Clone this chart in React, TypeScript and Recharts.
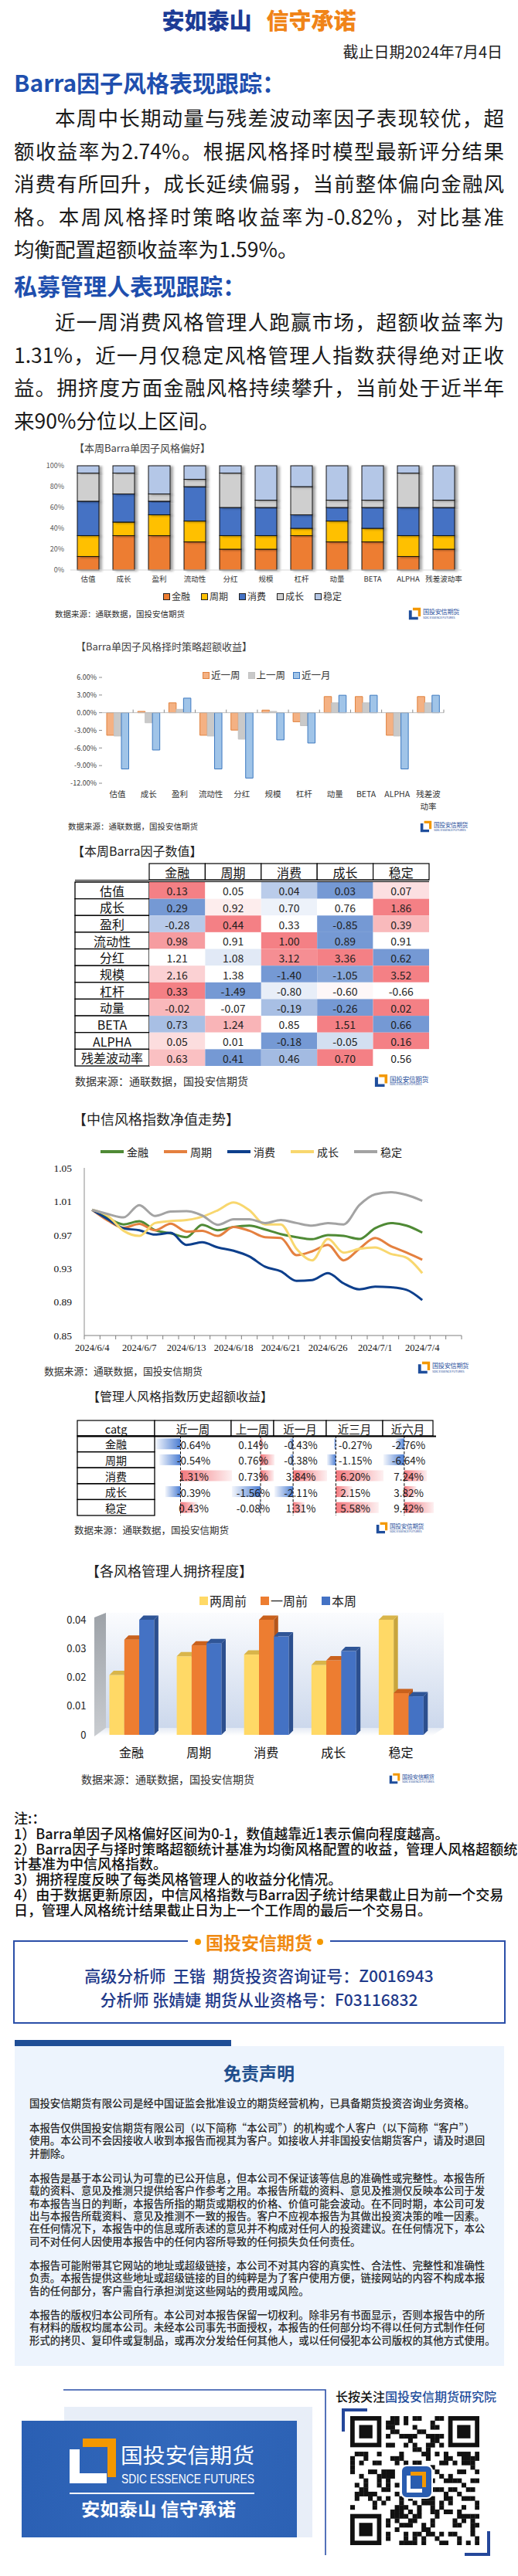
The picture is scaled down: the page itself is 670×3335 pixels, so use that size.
import React from "react";
import {
  BarChart,
  Bar,
  LineChart,
  Line,
  ScatterChart,
  Scatter,
  XAxis,
  YAxis,
  ReferenceLine,
} from "recharts";

const SANS = '"Noto Sans CJK SC", "Noto Sans", sans-serif';
const SERIF = '"Liberation Serif", "DejaVu Serif", serif';
const BRAND_BLUE = "#1f4e9c";
const BRAND_ORANGE = "#f39800";

// ---------- shared categories ----------
const styles = ["金融", "周期", "消费", "成长", "稳定"];
const factors = ["估值", "成长", "盈利", "流动性", "分红", "规模", "杠杆", "动量", "BETA", "ALPHA", "残差波动率"];

// ---------- Barra single-factor style preference (share per factor) ----------
const prefFinance = [0.13, 0.33, 0.33, 0.27, 0.2, 0.2, 0.33, 0.27, 0.27, 0.13, 0.2];
const prefCycle = [0.2, 0.13, 0.2, 0.2, 0.13, 0.13, 0.07, 0.2, 0.13, 0.2, 0.13];
const prefConsume = [0.33, 0.27, 0.13, 0.33, 0.27, 0.27, 0.13, 0.13, 0.2, 0.27, 0.27];
const prefGrowth = [0.27, 0.2, 0.07, 0.07, 0.33, 0.07, 0.27, 0.07, 0.07, 0.33, 0.07];
const prefStable = [0.07, 0.07, 0.27, 0.13, 0.07, 0.33, 0.2, 0.33, 0.33, 0.07, 0.33];

// ---------- Barra single-factor timing excess return (%) ----------
const timingSeries = ["近一周", "上一周", "近一月"];
const timingWeek = [-3.84, 0.22, 1.68, -3.84, -2.96, 0.44, -1.54, 2.74, 2.74, -3.84, 2.74];
const timingLastWeek = [-3.97, -1.72, 0.57, -3.97, -4.5, 0.22, -2.21, 1.68, 1.68, -3.97, 1.68];
const timingMonth = [-9.57, -6.35, 2.47, -9.57, -11.12, -4.63, -5.16, 2.96, 2.96, -9.57, 2.96];
const timingTicks = [-12, -9, -6, -3, 0, 3, 6];

// ---------- Barra factor values this week (one array per style) ----------
const barraFinance = [0.13, 0.29, -0.28, 0.98, 1.21, 2.16, 0.33, -0.02, 0.73, 0.05, 0.63];
const barraCycle = [0.05, 0.92, 0.44, 0.91, 1.08, 1.38, -1.49, -0.07, 1.24, 0.01, 0.41];
const barraConsume = [0.04, 0.7, 0.33, 1.0, 3.12, -1.4, -0.8, -0.19, 0.85, -0.18, 0.46];
const barraGrowth = [0.03, 0.76, -0.85, 0.89, 3.36, -1.05, -0.6, -0.26, 1.51, -0.05, 0.7];
const barraStable = [0.07, 1.86, 0.39, 0.91, 0.62, 3.52, -0.66, 0.02, 0.66, 0.16, 0.56];

// ---------- CITIC style index NAV ----------
const navDates = [
  "2024/6/4", "2024/6/5", "2024/6/6", "2024/6/7", "2024/6/11", "2024/6/12", "2024/6/13", "2024/6/14",
  "2024/6/17", "2024/6/18", "2024/6/19", "2024/6/20", "2024/6/21", "2024/6/24", "2024/6/25", "2024/6/26",
  "2024/6/27", "2024/6/28", "2024/7/1", "2024/7/2", "2024/7/3", "2024/7/4",
];
const navFinance = [1.0, 0.9903, 0.9826, 0.9863, 0.9756, 0.9719, 0.9673, 0.982, 0.9756, 0.9796, 0.9811, 0.9765, 0.971, 0.9673, 0.9649, 0.9698, 0.9688, 0.9652, 0.978, 0.9842, 0.9811, 0.9728];
const navCycle = [1.0, 0.9872, 0.9786, 0.9832, 0.9756, 0.9835, 0.974, 0.975, 0.9688, 0.9796, 0.975, 0.9673, 0.9664, 0.9459, 0.9505, 0.9581, 0.9397, 0.9535, 0.9664, 0.9566, 0.9489, 0.9404];
const navConsume = [1.0, 0.9887, 0.978, 0.9756, 0.9704, 0.9725, 0.9581, 0.9612, 0.9551, 0.9511, 0.9443, 0.9321, 0.9266, 0.9152, 0.9162, 0.9244, 0.9122, 0.9051, 0.9082, 0.9076, 0.9045, 0.8923];
const navGrowth = [1.0, 0.9927, 0.975, 0.9688, 0.9842, 0.9866, 0.9878, 0.9918, 0.9995, 1.0087, 0.9995, 0.9826, 0.9826, 0.9535, 0.9397, 0.9652, 0.9489, 0.9535, 0.9551, 0.9474, 0.9428, 0.9244];
const navStable = [1.0, 0.9949, 0.9909, 1.0056, 0.9927, 0.9979, 0.9985, 0.9933, 0.982, 0.9887, 0.9887, 0.9842, 0.9878, 0.9842, 0.9811, 0.9842, 0.9826, 1.0056, 1.0185, 1.0209, 1.0178, 1.0108];
const navTicks = [0.85, 0.89, 0.93, 0.97, 1.01, 1.05];

// ---------- manager style index excess return (%) ----------
const mgrPeriods = ["近一周", "上一周", "近一月", "近三月", "近六月"];
const mgrWeek = [-0.64, -0.54, 1.31, -0.39, 0.43];
const mgrLastWeek = [0.14, 0.76, 0.73, -1.56, -0.08];
const mgrMonth = [-0.43, -0.38, 3.84, -2.11, 1.31];
const mgrQuarter = [-0.27, -1.15, 6.2, 2.15, 5.58];
const mgrHalfYear = [-2.76, -6.64, 7.24, 3.82, 9.42];

// ---------- manager crowding ----------
const crowdSeries = ["两周前", "一周前", "本周"];
const crowdTwoWeeksAgo = [0.0208, 0.0273, 0.0279, 0.0243, 0.04];
const crowdOneWeekAgo = [0.0331, 0.0311, 0.04, 0.0259, 0.0145];
const crowdThisWeek = [0.04, 0.0319, 0.0342, 0.0291, 0.0134];
const crowdTicks = [0, 0.01, 0.02, 0.03, 0.04];

// ---------- styling ----------
const prefColors: Record<string, string> = {
  金融: "#ED7D31",
  周期: "#FFC000",
  消费: "#4472C4",
  成长: "#CFCFCF",
  稳定: "#B4C7E7",
};
const timingColors = [
  { fill: "#F4B183", stroke: "#E0823F" },
  { fill: "#C9C9C9", stroke: "#C3C3C3" },
  { fill: "#A0C4E8", stroke: "#3D79C0" },
];
const navColors = ["#4F8A35", "#E4803F", "#0D3F8C", "#F8D76E", "#A3A3A3"];
const crowdColors = [
  { face: "#FFD966", top: "#D9B54A", side: "#C9A53C" },
  { face: "#ED7D31", top: "#C9611D", side: "#B5561A" },
  { face: "#4472C4", top: "#2F5597", side: "#2C4F8E" },
];

function abs(left: number, top: number, extra?: any): any {
  return Object.assign({ position: "absolute", left: left, top: top }, extra || {});
}

// keeps one failing panel from blanking the whole page
class Guard extends React.Component<any, any> {
  constructor(props: any) {
    super(props);
    this.state = { failed: false };
  }
  static getDerivedStateFromError() {
    return { failed: true };
  }
  render() {
    if (this.state.failed) return null;
    return this.props.children;
  }
}

// gradients and filters shared by the charts below
function SharedDefs() {
  return (
    <svg width={1} height={1} style={abs(0, 0)}>
      <defs>
        <filter id="prefShadow" x="-30%" y="-10%" width="170%" height="130%">
          <feDropShadow dx="3.5" dy="1" stdDeviation="1.5" floodColor="#000" floodOpacity="0.35" />
        </filter>
        <linearGradient id="mgrPos" x1="0" x2="1" y1="0" y2="0">
          <stop offset="0" stopColor="#F3777C" />
          <stop offset="1" stopColor="#FDF0F1" />
        </linearGradient>
        <linearGradient id="mgrNeg" x1="0" x2="1" y1="0" y2="0">
          <stop offset="0" stopColor="#F3F6FC" />
          <stop offset="1" stopColor="#4C7ED3" />
        </linearGradient>
      </defs>
    </svg>
  );
}

function TextLine({ x, y, w, size, text, justify = true, color = "#1a1a1a", weight = 400, lh }: any) {
  const lineH = lh ?? Math.round(size * 1.5);
  return (
    <div
      style={abs(x, y - lineH / 2, {
        width: w,
        fontSize: size,
        lineHeight: lineH + "px",
        color: color,
        fontWeight: weight,
        textAlign: justify ? "justify" : "left",
        textAlignLast: justify ? "justify" : "left",
        whiteSpace: justify ? "normal" : "nowrap",
      })}
    >
      {text}
    </div>
  );
}

function Caption({ x, y, size, text, color = "#262626" }: any) {
  return (
    <div style={abs(x, y - size * 0.75, { fontSize: size, lineHeight: size * 1.5 + "px", color: color, whiteSpace: "nowrap" })}>
      {text}
    </div>
  );
}

function MiniLogo({ x, y, h }: any) {
  return (
    <div style={abs(x, y, { display: "flex", alignItems: "center", gap: 2 })}>
      <svg width={h} height={h} viewBox="0 0 20 20">
        <path d="M7 1 H19 V14 H15 V5 H7 Z" fill={BRAND_ORANGE} />
        <path d="M1 5 H5.5 V15 H15 V19 H1 Z" fill={BRAND_BLUE} />
      </svg>
      <div style={{ lineHeight: 1, color: BRAND_BLUE }}>
        <div style={{ fontSize: h * 0.48, letterSpacing: -0.3 }}>国投安信期货</div>
        <div style={{ fontSize: Math.max(h * 0.22, 4), letterSpacing: -0.2 }}>SDIC ESSENCE FUTURES</div>
      </div>
    </div>
  );
}

function Source({ x, y, size }: any) {
  return <Caption x={x} y={y} size={size} text="数据来源：通联数据，国投安信期货" color="#303030" />;
}

// ---------- header and commentary ----------
function Intro() {
  const p1 = [
    "本周中长期动量与残差波动率因子表现较优，超",
    "额收益率为2.74%。根据风格择时模型最新评分结果",
    "消费有所回升，成长延续偏弱，当前整体偏向金融风",
    "格。本周风格择时策略收益率为-0.82%，对比基准",
    "均衡配置超额收益率为1.59%。",
  ];
  const p2 = [
    "近一周消费风格管理人跑赢市场，超额收益率为",
    "1.31%，近一月仅稳定风格管理人指数获得绝对正收",
    "益。拥挤度方面金融风格持续攀升，当前处于近半年",
    "来90%分位以上区间。",
  ];
  const lineGap = 42.5;
  return (
    <>
      <div style={abs(0, 8, { width: 670, textAlign: "center", fontSize: 29, fontWeight: 900, lineHeight: "34px" })}>
        <span style={{ color: "#1d3c96" }}>安如泰山</span>
        <span style={{ color: "#f08418", marginLeft: 19 }}>信守承诺</span>
      </div>
      <div style={abs(0, 55, { width: 650, textAlign: "right", fontSize: 20, lineHeight: "24px", color: "#222" })}>
        截止日期2024年7月4日
      </div>
      <div style={abs(18, 88, { fontSize: 30, fontWeight: 700, lineHeight: "36px", color: "#1f4fae" })}>
        Barra因子风格表现跟踪：
      </div>
      {p1.map((t, i) => (
        <TextLine key={t} x={i === 0 ? 71 : 18} w={i === 0 ? 581 : 634} y={152 + i * lineGap} size={26.5} lh={40} text={t} justify={i < p1.length - 1} />
      ))}
      <div style={abs(18, 351, { fontSize: 30, fontWeight: 700, lineHeight: "36px", color: "#1f4fae" })}>
        私募管理人表现跟踪：
      </div>
      {p2.map((t, i) => (
        <TextLine key={t} x={i === 0 ? 71 : 18} w={i === 0 ? 581 : 634} y={416 + i * lineGap} size={26.5} lh={40} text={t} justify={i < p2.length - 1} />
      ))}
    </>
  );
}

// ---------- 100% stacked preference bars ----------
function ShadowBar(props: any) {
  const { x, y, width, height, fill } = props;
  if (!height || height <= 0) return null;
  return <rect x={x} y={y} width={width} height={height} fill={fill} stroke="#111" strokeWidth={1} filter="url(#prefShadow)" />;
}

function PreferenceChart() {
  const rows = factors.map((factor, i) => ({
    factor,
    金融: prefFinance[i],
    周期: prefCycle[i],
    消费: prefConsume[i],
    成长: prefGrowth[i],
    稳定: prefStable[i],
  }));
  return (
    <>
      <Caption x={96} y={580} size={13} text="【本周Barra单因子风格偏好】" color="#404040" />
      <div style={abs(0, 590)}>
        <BarChart width={610} height={200} data={rows} stackOffset="expand" barSize={28} margin={{ top: 13, right: 13, bottom: 22, left: 0 }}>
          <XAxis dataKey="factor" interval={0} axisLine={{ stroke: "#d9d9d9" }} tickLine={false} tick={{ fontSize: 9.5, fill: "#333" }} height={30} />
          <YAxis
            width={91}
            domain={[0, 1]}
            ticks={[0, 0.2, 0.4, 0.6, 0.8, 1]}
            tickFormatter={(v: number) => Math.round(v * 100) + "%"}
            axisLine={false}
            tickLine={false}
            tick={{ fontSize: 9, fill: "#595959" }}
          />
          {styles.map((s) => (
            <Bar key={s} dataKey={s} stackId="pref" fill={prefColors[s]} isAnimationActive={false} shape={ShadowBar} />
          ))}
        </BarChart>
      </div>
      <div style={abs(211, 764, { display: "flex", gap: 14, fontSize: 12, lineHeight: "16px", color: "#333" })}>
        {styles.map((s) => (
          <div key={s} style={{ display: "flex", alignItems: "center", gap: 2 }}>
            <div style={{ width: 7, height: 7, background: prefColors[s], border: "1px solid #222" }} />
            {s}
          </div>
        ))}
      </div>
      <Source x={71} y={795} size={10.5} />
      <MiniLogo x={528} y={786} h={17} />
    </>
  );
}

// ---------- timing strategy grouped bars ----------
const TIMING_BAND = 442 / factors.length;
const TIMING_PLOT_H = 137;

function TimingTick(props: any) {
  const { x, y, payload } = props;
  const label: string = String(payload && payload.value != null ? payload.value : "");
  const lines = /[\u4e00-\u9fff]/.test(label) && label.length > 3 ? [label.slice(0, 3), label.slice(3)] : [label];
  const zeroY = y - TIMING_PLOT_H + (TIMING_PLOT_H * 6) / 18;
  return (
    <g>
      <line x1={x + TIMING_BAND / 2} x2={x + TIMING_BAND / 2} y1={zeroY - 4} y2={zeroY} stroke="#8c8c8c" />
      {lines.map((t, i) => (
        <text key={t} x={x} y={y + 13 + i * 16} textAnchor="middle" dominantBaseline="central" fontSize={10.5} fill="#333" fontFamily={SANS}>
          {t}
        </text>
      ))}
    </g>
  );
}

function TimingChart() {
  const rows = factors.map((factor, i) => ({
    factor,
    近一周: timingWeek[i],
    上一周: timingLastWeek[i],
    近一月: timingMonth[i],
  }));
  return (
    <>
      <Caption x={98} y={837} size={13} text="【Barra单因子风格择时策略超额收益】" color="#404040" />
      <div style={abs(262, 866, { display: "flex", gap: 10, fontSize: 12.5, lineHeight: "16px", color: "#333" })}>
        {timingSeries.map((s, i) => (
          <div key={s} style={{ display: "flex", alignItems: "center", gap: 2 }}>
            <div style={{ width: 7, height: 7, background: timingColors[i].fill, border: "1px solid " + timingColors[i].stroke }} />
            {s}
          </div>
        ))}
      </div>
      <div style={abs(0, 860)}>
        <BarChart width={590} height={194} data={rows} barSize={9.5} barGap={0} margin={{ top: 17, right: 16, bottom: 0, left: 0 }}>
          <XAxis dataKey="factor" interval={0} axisLine={false} tickLine={false} tickSize={0} tickMargin={0} height={40} tick={TimingTick} />
          <YAxis
            width={132}
            domain={[-12, 6]}
            ticks={timingTicks}
            tickFormatter={(v: number) => v.toFixed(2) + "%"}
            axisLine={false}
            tickLine={{ stroke: "#8c8c8c" }}
            tickSize={4}
            tickMargin={3}
            tick={{ fontSize: 9, fill: "#404040" }}
          />
          <ReferenceLine y={0} stroke="#bfbfbf" />
          {timingSeries.map((s, i) => (
            <Bar key={s} dataKey={s} fill={timingColors[i].fill} stroke={timingColors[i].stroke} strokeWidth={1} isAnimationActive={false} />
          ))}
        </BarChart>
      </div>
      <Source x={88} y={1070} size={10.5} />
      <MiniLogo x={543} y={1062} h={16} />
    </>
  );
}

// ---------- Barra factor value heatmap ----------
const barraByStyle = [barraFinance, barraCycle, barraConsume, barraGrowth, barraStable];
const HEAT_W = 362;
const HEAT_H = 238;
const HEAT_LOW = [117, 153, 212];
const HEAT_MID = [255, 255, 255];
const HEAT_HIGH = [244, 128, 133];

function mix(a: number[], b: number[], t: number) {
  return "rgb(" + a.map((v, i) => Math.round(v + (b[i] - v) * t)).join(",") + ")";
}

// three-colour scale per factor row: min blue, median white, max red
function heatFill(r: number, v: number) {
  const row = barraByStyle.map((col) => col[r]).sort((a, b) => a - b);
  const lo = row[0];
  const mid = row[2];
  const hi = row[row.length - 1];
  if (v <= mid) return mix(HEAT_LOW, HEAT_MID, mid === lo ? 1 : (v - lo) / (mid - lo));
  return mix(HEAT_MID, HEAT_HIGH, hi === mid ? 1 : (v - mid) / (hi - mid));
}

function HeatCell(props: any) {
  const { cx, cy, payload } = props;
  if (cx == null || cy == null || !payload) return null;
  const w = HEAT_W / styles.length;
  const h = HEAT_H / factors.length;
  return (
    <g>
      <rect x={cx - w / 2} y={cy - h / 2} width={w} height={h} fill={heatFill(payload.r, payload.value)} />
      <text x={cx} y={cy + 0.5} textAnchor="middle" dominantBaseline="central" fontSize={14} fill="#1f1f1f" fontFamily={SANS}>
        {payload.value.toFixed(2)}
      </text>
    </g>
  );
}

function BarraTable() {
  const cells = factors.flatMap((factor, r) => styles.map((style, c) => ({ factor, style, r, value: barraByStyle[c][r] })));
  const colW = HEAT_W / styles.length;
  const rowH = HEAT_H / factors.length;
  return (
    <>
      <Caption x={93} y={1101} size={16} text="【本周Barra因子数值】" color="#222" />
      <svg style={abs(96, 1117)} width={462} height={264} fontFamily={SANS}>
        {styles.map((s, c) => (
          <g key={s}>
            <rect x={97 + c * colW} y={1} width={colW} height={21} fill="#fff" stroke="#000" strokeWidth={1.2} />
            <text x={97 + (c + 0.5) * colW} y={12} textAnchor="middle" dominantBaseline="central" fontSize={16} fill="#111">
              {s}
            </text>
          </g>
        ))}
        <line x1={1} x2={459} y1={22.5} y2={22.5} stroke="#000" strokeWidth={1.2} />
        <line x1={1} x2={459} y1={24.5} y2={24.5} stroke="#000" strokeWidth={1.2} />
        {factors.map((f, r) => (
          <g key={f}>
            <rect x={1} y={25 + r * rowH} width={96} height={rowH} fill="#fff" stroke="#000" strokeWidth={1.3} />
            <text x={49} y={25 + (r + 0.5) * rowH} textAnchor="middle" dominantBaseline="central" fontSize={16} fill="#111">
              {f}
            </text>
          </g>
        ))}
      </svg>
      <div style={abs(193, 1142)}>
        <ScatterChart width={HEAT_W} height={HEAT_H} margin={{ top: 0, right: 0, bottom: 0, left: 0 }}>
          <XAxis type="category" dataKey="style" allowDuplicatedCategory={false} hide />
          <YAxis type="category" dataKey="factor" allowDuplicatedCategory={false} reversed hide />
          <Scatter data={cells} shape={HeatCell} isAnimationActive={false} />
        </ScatterChart>
      </div>
      <Source x={97} y={1399} size={14} />
      <MiniLogo x={484} y={1390} h={18} />
    </>
  );
}

// ---------- CITIC style index NAV lines ----------
const NAV_SLOTS = navDates.length + 2;
const NAV_BAND = 488 / NAV_SLOTS;

function NavTick(props: any) {
  const { x, y, payload, index } = props;
  const showLabel = index < navDates.length && index % 3 === 0;
  return (
    <g>
      <line x1={x - NAV_BAND / 2} x2={x - NAV_BAND / 2} y1={y} y2={y + 5} stroke="#7f7f7f" />
      {index === NAV_SLOTS - 1 ? <line x1={x + NAV_BAND / 2} x2={x + NAV_BAND / 2} y1={y} y2={y + 5} stroke="#7f7f7f" /> : null}
      {showLabel ? (
        <text x={x} y={y + 16} textAnchor="middle" dominantBaseline="central" fontFamily={SERIF} fontSize={12.5} fill="#111">
          {payload.value}
        </text>
      ) : null}
    </g>
  );
}

function NavChart() {
  const navByStyle = [navFinance, navCycle, navConsume, navGrowth, navStable];
  const rows: any[] = navDates.map((date, i) => {
    const row: any = { date };
    styles.forEach((s, k) => (row[s] = navByStyle[k][i]));
    return row;
  });
  rows.push({ date: " " }, { date: "  " });
  return (
    <>
      <Caption x={94} y={1448} size={18} text="【中信风格指数净值走势】" color="#222" />
      <div style={abs(130, 1481, { display: "flex", gap: 20, fontSize: 14, lineHeight: "20px", color: "#222" })}>
        {styles.map((s, k) => (
          <div key={s} style={{ display: "flex", alignItems: "center", gap: 4 }}>
            <div style={{ width: 30, height: 4, background: navColors[k] }} />
            {s}
          </div>
        ))}
      </div>
      <div style={abs(0, 1500)}>
        <LineChart width={610} height={265} data={rows} margin={{ top: 12, right: 13, bottom: 6, left: 0 }}>
          <XAxis dataKey="date" scale="band" interval={0} tickLine={false} tickSize={0} tickMargin={0} axisLine={{ stroke: "#7f7f7f" }} height={30} tick={NavTick} />
          <YAxis
            width={109}
            domain={[0.85, 1.05]}
            ticks={navTicks}
            tickFormatter={(v: number) => v.toFixed(2)}
            axisLine={{ stroke: "#8c8c8c" }}
            tickLine={false}
            tickMargin={10}
            tick={{ fontSize: 13.5, fill: "#111", fontFamily: SERIF }}
          />
          {styles.map((s, k) => (
            <Line key={s} type="monotone" dataKey={s} stroke={navColors[k]} strokeWidth={3} dot={false} isAnimationActive={false} />
          ))}
        </LineChart>
      </div>
      <Source x={57} y={1775} size={12.8} />
      <MiniLogo x={540} y={1762} h={17} />
    </>
  );
}

// ---------- manager excess return table with data bars ----------
const mgrByPeriod = [mgrWeek, mgrLastWeek, mgrMonth, mgrQuarter, mgrHalfYear];
const mgrEdges = [101, 201, 300, 355, 423, 496, 561];
const MGR_TOP = 1859;
const MGR_ROW_H = 20.6;

// data bar drawn from the axis outwards, with the dashed zero axis and the value text
function makeDataBar(colW: number) {
  return (props: any) => {
    const { x, y, width, height, payload } = props;
    if (!payload || x == null) return null;
    const v = Number(payload.v);
    const left = Math.min(x, x + width);
    const bw = Math.abs(width);
    const cy = y + height / 2;
    const zeroX = v >= 0 ? left : left + bw;
    return (
      <g>
        <rect x={left} y={y} width={bw} height={height} fill={v < 0 ? "url(#mgrNeg)" : "url(#mgrPos)"} />
        <line x1={zeroX} x2={zeroX} y1={cy - MGR_ROW_H / 2} y2={cy + MGR_ROW_H / 2} stroke="#000" strokeDasharray="3 2" />
        <text x={colW / 2} y={cy + 0.5} textAnchor="middle" dominantBaseline="central" fontSize={13.5} fill="#1a1a1a" fontFamily={SANS}>
          {v.toFixed(2) + "%"}
        </text>
      </g>
    );
  };
}

function MgrColumn({ values, w }: any) {
  const rows = styles.map((style, r) => ({ style, v: values[r] }));
  const lo = Math.min(...values);
  const hi = Math.max(...values);
  return (
    <BarChart layout="vertical" width={w} height={MGR_ROW_H * styles.length} data={rows} barCategoryGap="16%" margin={{ top: 0, right: 0, bottom: 0, left: 0 }}>
      <XAxis type="number" domain={[lo, hi]} allowDataOverflow hide />
      <YAxis type="category" dataKey="style" hide />
      <Bar dataKey="v" fill="#F3777C" isAnimationActive={false} shape={makeDataBar(w)} />
    </BarChart>
  );
}

function ManagerTable() {
  return (
    <>
      <Caption x={113} y={1807} size={16} text="【管理人风格指数历史超额收益】" color="#222" />
      <svg style={abs(99, 1837)} width={466} height={130} fontFamily={SANS}>
        {["catg"].concat(mgrPeriods).map((h, i) => {
          const x0 = mgrEdges[i] - 100;
          const x1 = mgrEdges[i + 1] - 100;
          return (
            <g key={h}>
              <rect x={x0} y={2} width={x1 - x0} height={20} fill="#fff" stroke="#000" strokeWidth={1.2} />
              <text x={(x0 + x1) / 2} y={12.5} textAnchor="middle" dominantBaseline="central" fontSize={14.5} fill="#111">
                {h}
              </text>
            </g>
          );
        })}
        <line x1={1} x2={465} y1={22.5} y2={22.5} stroke="#000" strokeWidth={2} />
        {styles.map((s, r) => (
          <g key={s}>
            <rect x={1} y={22 + r * MGR_ROW_H} width={100} height={MGR_ROW_H} fill="none" stroke="#000" strokeWidth={1.3} />
            <text x={51} y={22 + (r + 0.5) * MGR_ROW_H} textAnchor="middle" dominantBaseline="central" fontSize={14} fill="#111">
              {s}
            </text>
          </g>
        ))}
      </svg>
      {mgrPeriods.map((p, c) => (
        <div key={p} style={abs(mgrEdges[c + 1], MGR_TOP)}>
          <Guard>
            <MgrColumn values={mgrByPeriod[c]} w={mgrEdges[c + 2] - mgrEdges[c + 1]} />
          </Guard>
        </div>
      ))}
      <Source x={96} y={1981} size={12.5} />
      <MiniLogo x={486} y={1970} h={16} />
    </>
  );
}

// ---------- crowding 3D columns ----------
const COLUMN_DEPTH = 5.5;
const columnShapes = crowdColors.map((col) => (props: any) => {
  const { x, y, width, height } = props;
  if (!height || height <= 0) return null;
  const d = COLUMN_DEPTH;
  return (
    <g>
      <rect x={x} y={y} width={width} height={height} fill={col.face} />
      <polygon points={[x, y, x + d, y - d, x + width + d, y - d, x + width, y].join(" ")} fill={col.top} />
      <polygon points={[x + width, y, x + width + d, y - d, x + width + d, y + height - d, x + width, y + height].join(" ")} fill={col.side} />
    </g>
  );
});

function CrowdingChart() {
  const series = [crowdTwoWeeksAgo, crowdOneWeekAgo, crowdThisWeek];
  const rows = styles.map((style, i) => ({
    style,
    两周前: series[0][i],
    一周前: series[1][i],
    本周: series[2][i],
  }));
  return (
    <>
      <Caption x={111} y={2033} size={18} text="【各风格管理人拥挤程度】" color="#222" />
      <div style={abs(258, 2061, { display: "flex", gap: 18, fontSize: 16, lineHeight: "22px", color: "#222" })}>
        {crowdSeries.map((s, i) => (
          <div key={s} style={{ display: "flex", alignItems: "center", gap: 2 }}>
            <div style={{ width: 11, height: 11, background: crowdColors[i].face }} />
            {s}
          </div>
        ))}
      </div>
      <svg style={abs(118, 2084)} width={460} height={170}>
        <defs>
          <linearGradient id="wallBack" x1="0" x2="0" y1="0" y2="1">
            <stop offset="0" stopColor="#FBFCFE" />
            <stop offset="1" stopColor="#CCD8EC" />
          </linearGradient>
          <linearGradient id="wallSide" x1="0" x2="0" y1="0" y2="1">
            <stop offset="0" stopColor="#9DA2A8" />
            <stop offset="1" stopColor="#C9CCD0" />
          </linearGradient>
          <linearGradient id="wallFloor" x1="0" x2="0" y1="0" y2="1">
            <stop offset="0" stopColor="#E4EAF4" />
            <stop offset="1" stopColor="#FFFFFF" />
          </linearGradient>
        </defs>
        <rect x={19} y={4} width={437} height={149} fill="url(#wallBack)" />
        <polygon points="19,153 456,153 441,163 4,163" fill="url(#wallFloor)" />
        <polygon points="4,10 19,4 19,153 4,164" fill="url(#wallSide)" />
      </svg>
      <div style={abs(0, 2085)}>
        <BarChart width={600} height={201} data={rows} barSize={19.3} barGap={0} margin={{ top: 12, right: 38, bottom: 10, left: 0 }}>
          <XAxis dataKey="style" interval={0} axisLine={false} tickLine={false} tickMargin={12} height={30} tick={{ fontSize: 16, fill: "#111" }} />
          <YAxis
            width={126.5}
            domain={[0, 0.04]}
            ticks={crowdTicks}
            tickFormatter={(v: number) => (v === 0 ? "0" : v.toFixed(2))}
            axisLine={false}
            tickLine={false}
            tickMargin={9}
            tick={{ fontSize: 13, fill: "#222" }}
          />
          {crowdSeries.map((s, i) => (
            <Bar key={s} dataKey={s} fill={crowdColors[i].face} isAnimationActive={false} shape={columnShapes[i]} />
          ))}
        </BarChart>
      </div>
      <Source x={105} y={2303} size={14} />
      <MiniLogo x={503} y={2295} h={15} />
    </>
  );
}

// ---------- notes, analysts and disclaimer ----------
function Notes() {
  const lines = [
    "注:：",
    "1）Barra单因子风格偏好区间为0-1，数值越靠近1表示偏向程度越高。",
    "2）Barra因子与择时策略超额统计基准为均衡风格配置的收益，管理人风格超额统",
    "计基准为中信风格指数。",
    "3）拥挤程度反映了每类风格管理人的收益分化情况。",
    "4）由于数据更新原因，中信风格指数与Barra因子统计结果截止日为前一个交易",
    "日，管理人风格统计结果截止日为上一个工作周的最后一个交易日。",
  ];
  return (
    <>
      {lines.map((t, i) => (
        <TextLine key={t} x={18} y={2353 + i * 19.8} w={640} size={18} lh={20} text={t} justify={false} color="#111" weight={500} />
      ))}
    </>
  );
}

function AnalystBox() {
  return (
    <>
      <div style={abs(17, 2512, { width: 637, height: 108, border: "2px solid #2b4fa8", boxSizing: "border-box" })} />
      <div style={abs(243, 2497, { width: 184, height: 34, background: "#fff", display: "flex", alignItems: "center", justifyContent: "center", gap: 6 })}>
        <div style={{ width: 8, height: 8, borderRadius: 4, background: BRAND_ORANGE }} />
        <div style={{ fontSize: 23, fontWeight: 700, color: "#f08a12", lineHeight: "30px" }}>国投安信期货</div>
        <div style={{ width: 8, height: 8, borderRadius: 4, background: BRAND_ORANGE }} />
      </div>
      <div style={abs(0, 2543, { width: 670, textAlign: "center", fontSize: 21, lineHeight: "28px", color: "#1f3a8a", fontWeight: 500, whiteSpace: "pre" })}>
        {"高级分析师  王锴  期货投资咨询证号：Z0016943"}
      </div>
      <div style={abs(0, 2574, { width: 670, textAlign: "center", fontSize: 21, lineHeight: "28px", color: "#1f3a8a", fontWeight: 500 })}>
        分析师 张婧婕 期货从业资格号：F03116832
      </div>
    </>
  );
}

function Disclaimer() {
  const paras = [
    ["国投安信期货有限公司是经中国证监会批准设立的期货经营机构，已具备期货投资咨询业务资格。"],
    [
      "本报告仅供国投安信期货有限公司（以下简称“本公司”）的机构或个人客户（以下简称“客户”）",
      "使用。本公司不会因接收人收到本报告而视其为客户。如接收人并非国投安信期货客户，请及时退回",
      "并删除。",
    ],
    [
      "本报告是基于本公司认为可靠的已公开信息，但本公司不保证该等信息的准确性或完整性。本报告所",
      "载的资料、意见及推测只提供给客户作参考之用。本报告所载的资料、意见及推测仅反映本公司于发",
      "布本报告当日的判断，本报告所指的期货或期权的价格、价值可能会波动。在不同时期，本公司可发",
      "出与本报告所载资料、意见及推测不一致的报告。客户不应视本报告为其做出投资决策的唯一因素。",
      "在任何情况下，本报告中的信息或所表述的意见并不构成对任何人的投资建议。在任何情况下，本公",
      "司不对任何人因使用本报告中的任何内容所导致的任何损失负任何责任。",
    ],
    [
      "本报告可能附带其它网站的地址或超级链接，本公司不对其内容的真实性、合法性、完整性和准确性",
      "负责。本报告提供这些地址或超级链接的目的纯粹是为了客户使用方便，链接网站的内容不构成本报",
      "告的任何部分，客户需自行承担浏览这些网站的费用或风险。",
    ],
    [
      "本报告的版权归本公司所有。本公司对本报告保留一切权利。除非另有书面显示，否则本报告中的所",
      "有材料的版权均属本公司。未经本公司事先书面授权，本报告的任何部分均不得以任何方式制作任何",
      "形式的拷贝、复印件或复制品，或再次分发给任何其他人，或以任何侵犯本公司版权的其他方式使用。",
    ],
  ];
  const starts = [2722, 2754, 2819, 2932, 2996];
  return (
    <>
      <div style={abs(19, 2641, { width: 280, height: 9, background: "#1f4e96" })} />
      <div style={abs(19, 2649, { width: 633, height: 414, background: "#EDF4FD" })} />
      <div style={abs(0, 2667, { width: 670, textAlign: "center", fontSize: 23, fontWeight: 700, lineHeight: "32px", color: "#1f4e8c" })}>
        免责声明
      </div>
      {paras.map((lines, p) =>
        lines.map((t, i) => (
          <TextLine key={t} x={38} y={starts[p] + i * 16.3} w={620} size={13.4} lh={16} text={t} justify={false} color="#2b2b2b" weight={500} />
        ))
      )}
    </>
  );
}

// ---------- footer banner and QR ----------
function QrMock() {
  const n = 29;
  const size = 167;
  const m = size / n;
  const finder = (r: number, c: number) => (r < 8 && c < 8) || (r < 8 && c >= n - 8) || (r >= n - 8 && c < 8);
  const mods: any[] = [];
  for (let r = 0; r < n; r++) {
    for (let c = 0; c < n; c++) {
      if (finder(r, c)) continue;
      if (r >= 11 && r <= 17 && c >= 11 && c <= 17) continue;
      const on = ((r * 7 + c * 11) ^ (r * c + 3)) % 3 === 0 || ((r + 2 * c) % 5 === 0 && r % 2 === 0);
      if (on) mods.push(<rect key={r + "-" + c} x={c * m} y={r * m} width={m + 0.3} height={m + 0.3} fill="#111" />);
    }
  }
  const eye = (r: number, c: number) => (
    <g key={"eye" + r + "-" + c}>
      <rect x={c * m} y={r * m} width={7 * m} height={7 * m} fill="#111" />
      <rect x={(c + 1) * m} y={(r + 1) * m} width={5 * m} height={5 * m} fill="#fff" />
      <rect x={(c + 2) * m} y={(r + 2) * m} width={3 * m} height={3 * m} fill="#111" />
    </g>
  );
  return (
    <svg style={abs(453, 3128)} width={size} height={size}>
      <rect width={size} height={size} fill="#fff" />
      {mods}
      {eye(0, 0)}
      {eye(0, n - 7)}
      {eye(n - 7, 0)}
      <rect x={66} y={64} width={40} height={42} rx={7} fill="#2a5db0" stroke="#fff" strokeWidth={2} />
      <path d="M78 72 H98 V92 H93 V77 H78 Z" fill={BRAND_ORANGE} />
      <path d="M73 77 H78 V94 H93 V99 H73 Z" fill="#fff" />
    </svg>
  );
}

function Footer() {
  return (
    <>
      <svg style={abs(0, 3085)} width={670} height={230}>
        <polyline points="82,9 421,9 421,223" fill="none" stroke="#2b4fa8" strokeWidth={1.6} />
        <polyline points="444,63 444,35 475,35" fill="none" stroke="#24479a" strokeWidth={4} />
        <polyline points="601,222 632,222 632,192" fill="none" stroke="#24479a" strokeWidth={4} />
      </svg>
      <div style={abs(83, 3116, { width: 321, height: 169, background: "#E8EEF8" })} />
      <div style={abs(28, 3134, { width: 356, height: 151, background: "linear-gradient(100deg, #2a5fb3 0%, #3268bb 55%, #2c61b4 100%)" })} />
      <svg style={abs(28, 3134)} width={356} height={151}>
        <path d="M79 23 H122 V73 H111 V34 H79 Z" fill={BRAND_ORANGE} />
        <path d="M62 37 H75 V68 H110 V81 H62 Z" fill="#fff" />
        <text x={128} y={55} fontFamily={SANS} fontSize={27} fill="#fff" textLength={173} lengthAdjust="spacingAndGlyphs">
          国投安信期货
        </text>
        <text x={129} y={81} fontFamily={"'Liberation Sans Narrow', 'Liberation Sans', sans-serif"} fontSize={16} fill="#fff" textLength={172} lengthAdjust="spacingAndGlyphs">
          SDIC ESSENCE FUTURES
        </text>
        <line x1={62} x2={301} y1={94} y2={94} stroke="#fff" strokeWidth={2} />
        <text x={77} y={123} fontFamily={SANS} fontWeight={700} fontSize={23} fill="#fff" textLength={200} lengthAdjust="spacingAndGlyphs">
          安如泰山 信守承诺
        </text>
      </svg>
      <div style={abs(434, 3091, { fontSize: 16, lineHeight: "22px", whiteSpace: "nowrap", fontWeight: 500 })}>
        <span style={{ color: "#111" }}>长按关注</span>
        <span style={{ color: "#1f4e9c" }}>国投安信期货研究院</span>
      </div>
      <QrMock />
    </>
  );
}

export default function App() {
  return (
    <div style={{ position: "absolute", left: 0, top: 0, width: 670, height: 3335, background: "#fff", fontFamily: SANS, overflow: "hidden" }}>
      <SharedDefs />
      <Guard><Intro /></Guard>
      <Guard><PreferenceChart /></Guard>
      <Guard><TimingChart /></Guard>
      <Guard><BarraTable /></Guard>
      <Guard><NavChart /></Guard>
      <Guard><ManagerTable /></Guard>
      <Guard><CrowdingChart /></Guard>
      <Guard><Notes /></Guard>
      <Guard><AnalystBox /></Guard>
      <Guard><Disclaimer /></Guard>
      <Guard><Footer /></Guard>
    </div>
  );
}
